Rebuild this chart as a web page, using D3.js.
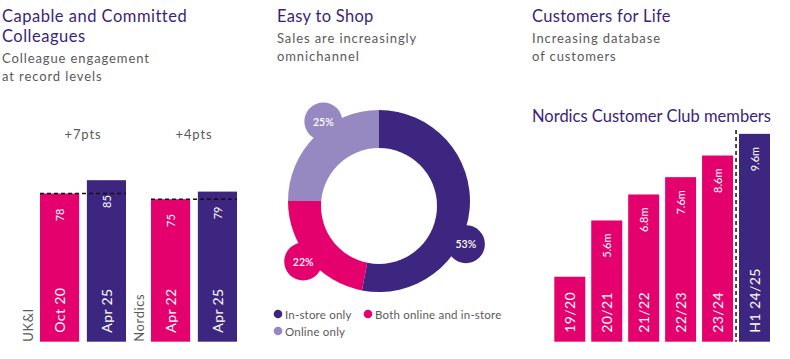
<!DOCTYPE html>
<html><head><meta charset="utf-8">
<script src="https://cdn.jsdelivr.net/npm/d3@7/dist/d3.min.js"></script>
<style>
html,body{margin:0;padding:0;background:#fff;}
svg{display:block;font-family:Lato,"Noto Sans",sans-serif;}
</style></head>
<body><svg id="chart" width="790" height="359"></svg>
<script>
// ---- data ----
const colleagueGroups = ["UK&I", "Nordics"];
const colleaguePeriods = [["Oct 20", "Apr 25"], ["Apr 22", "Apr 25"]];
const colleagueScores = [[78, 85], [75, 79]];
const colleagueGains = ["+7pts", "+4pts"];

const channelLabels = ["In-store only", "Both online and in-store", "Online only"];
const channelShares = [53, 22, 25];

const clubYears = ["19/20", "20/21", "21/22", "22/23", "23/24", "H1 24/25"];
const clubMembers = [3.0, 5.6, 6.8, 7.6, 8.6, 9.6];
const clubValueLabels = [null, "5.6m", "6.8m", "7.6m", "8.6m", "9.6m"];

// ---- styles ----
const PINK = "#e4006d", PURPLE = "#3d2680", LILAC = "#9688c0";
const TITLE = "#3b1f7a", SUB = "#5a5a5a";

const svg = d3.select("#chart");

function textBlock(x, lines, opts) {
  lines.forEach((l, i) => {
    svg.append("text").attr("x", x).attr("y", l[1])
      .attr("fill", opts.fill).attr("font-size", opts.size)
      .attr("letter-spacing", opts.ls || 0)
      .text(l[0]);
  });
}
// titles
textBlock(2, [["Capable and Committed", 22], ["Colleagues", 42]], {fill: TITLE, size: 16.5, ls: 0.5});
textBlock(2, [["Colleague engagement", 63], ["at record levels", 81]], {fill: SUB, size: 13, ls: 0.9});
textBlock(277, [["Easy to Shop", 22]], {fill: TITLE, size: 16.5, ls: 0.3});
textBlock(277, [["Sales are increasingly", 43], ["omnichannel", 61]], {fill: SUB, size: 13, ls: 0.9});
textBlock(532, [["Customers for Life", 22]], {fill: TITLE, size: 16.5, ls: 0.3});
textBlock(532, [["Increasing database", 43], ["of customers", 61]], {fill: SUB, size: 13, ls: 0.9});
textBlock(532, [["Nordics Customer Club members", 122]], {fill: TITLE, size: 16.5});

// ---- left panel: colleague engagement ----
const yL = d3.scaleLinear().domain([0, 100]).range([341.7, 151.7]);
const xG = d3.scaleBand().domain(colleagueGroups).range([40, 237]).paddingInner(0.225).paddingOuter(0);
const xI = d3.scaleBand().domain([0, 1]).range([0, xG.bandwidth()]).paddingInner(0.165).paddingOuter(0);
const barColors = [PINK, PURPLE];

colleagueGroups.forEach((g, gi) => {
  const gx = xG(g);
  const grp = svg.append("g");
  colleagueScores[gi].forEach((v, i) => {
    const x = gx + xI(i), w = xI.bandwidth(), cx = x + w / 2;
    grp.append("rect").attr("x", x).attr("y", yL(v)).attr("width", w)
      .attr("height", yL(0) - yL(v)).attr("fill", barColors[i]);
    grp.append("text").attr("transform", `translate(${cx},${yL(v) + 15}) rotate(-90)`)
      .attr("text-anchor", "end").attr("dominant-baseline", "central")
      .attr("fill", "#fff").attr("font-size", 11).text(v);
    grp.append("text").attr("transform", `translate(${cx},${yL(0) - 9}) rotate(-90)`)
      .attr("text-anchor", "start").attr("dominant-baseline", "central")
      .attr("fill", "#fff").attr("font-size", 14).attr("letter-spacing", 0.4)
      .text(colleaguePeriods[gi][i]);
  });
  // baseline dashed line at first value
  grp.append("line").attr("x1", gx).attr("x2", gx + xG.bandwidth())
    .attr("y1", yL(colleagueScores[gi][0])).attr("y2", yL(colleagueScores[gi][0]))
    .attr("stroke", "#111").attr("stroke-width", 1.5).attr("stroke-dasharray", "4,3");
  // gain label
  grp.append("text").attr("x", gx + xG.bandwidth() / 2).attr("y", 139)
    .attr("text-anchor", "middle").attr("fill", SUB).attr("font-size", 13).attr("letter-spacing", 0.9)
    .text(colleagueGains[gi]);
  // group label
  grp.append("text").attr("transform", `translate(${gx - 12},${yL(0)}) rotate(-90)`)
    .attr("text-anchor", "start").attr("dominant-baseline", "central")
    .attr("fill", SUB).attr("font-size", 13).attr("letter-spacing", 0.6).text(g);
});

// ---- middle: donut ----
const cx = 379, cy = 201, R = 91;
const pie = d3.pie().sort(null).value(d => d);
const arcs = pie(channelShares);
const segColors = [PURPLE, PINK, LILAC];
const bubbleShift = [21, 1, 10]; // degrees, label bubble offset from segment middle
const dg = svg.append("g").attr("transform", `translate(${cx},${cy})`);
const arcGen = d3.arc().innerRadius(0).outerRadius(R);
dg.selectAll("path.seg").data(arcs).join("path").attr("class", "seg")
  .attr("d", arcGen).attr("fill", (d, i) => segColors[i]);
arcs.forEach((d, i) => {
  const a = (d.startAngle + d.endAngle) / 2 + bubbleShift[i] * Math.PI / 180;
  const bx = Math.sin(a) * 97, by = -Math.cos(a) * 97;
  dg.append("circle").attr("cx", bx).attr("cy", by).attr("r", 19).attr("fill", segColors[i]);
  dg.append("text").attr("x", bx).attr("y", by).attr("text-anchor", "middle")
    .attr("dominant-baseline", "central").attr("fill", "#fff").attr("font-size", 10.5)
    .attr("font-weight", 600).text(channelShares[i] + "%");
});
dg.append("circle").attr("cx", 0).attr("cy", 5).attr("r", 58).attr("fill", "#fff");

// legend
const legendPos = [[278, 314], [368, 314], [278, 331]];
channelLabels.forEach((l, i) => {
  const [lx, ly] = legendPos[i];
  svg.append("circle").attr("cx", lx).attr("cy", ly).attr("r", 4.3).attr("fill", segColors[i]);
  svg.append("text").attr("x", lx + 7).attr("y", ly).attr("dominant-baseline", "central")
    .attr("fill", SUB).attr("font-size", 11.5).attr("letter-spacing", 0.2).text(l);
});

// ---- right: club members ----
const yR = d3.scaleLinear().domain([0, 10]).range([341.7, 125.2]);
const xR = d3.scaleBand().domain(clubYears).range([554.3, 770]).paddingInner(0.161).paddingOuter(0);
const rg = svg.append("g");
clubYears.forEach((yr, i) => {
  const v = clubMembers[i], x = xR(yr), w = xR.bandwidth(), bx = x + w / 2;
  const col = i === clubYears.length - 1 ? PURPLE : PINK;
  rg.append("rect").attr("x", x).attr("y", yR(v)).attr("width", w)
    .attr("height", yR(0) - yR(v)).attr("fill", col);
  if (clubValueLabels[i]) {
    rg.append("text").attr("transform", `translate(${bx},${yR(v) + 13}) rotate(-90)`)
      .attr("text-anchor", "end").attr("dominant-baseline", "central")
      .attr("fill", "#fff").attr("font-size", 11).text(clubValueLabels[i]);
  }
  rg.append("text").attr("transform", `translate(${bx},${yR(0) - 9}) rotate(-90)`)
    .attr("text-anchor", "start").attr("dominant-baseline", "central")
    .attr("fill", "#fff").attr("font-size", 14).attr("letter-spacing", 0.4).text(yr);
});
const last = clubYears[clubYears.length - 1], prev = clubYears[clubYears.length - 2];
const sepX = (xR(prev) + xR.bandwidth() + xR(last)) / 2;
rg.append("line").attr("x1", sepX).attr("x2", sepX).attr("y1", 130).attr("y2", yR(0))
  .attr("stroke", "#111").attr("stroke-width", 1.5).attr("stroke-dasharray", "4,3");
</script></body></html>
